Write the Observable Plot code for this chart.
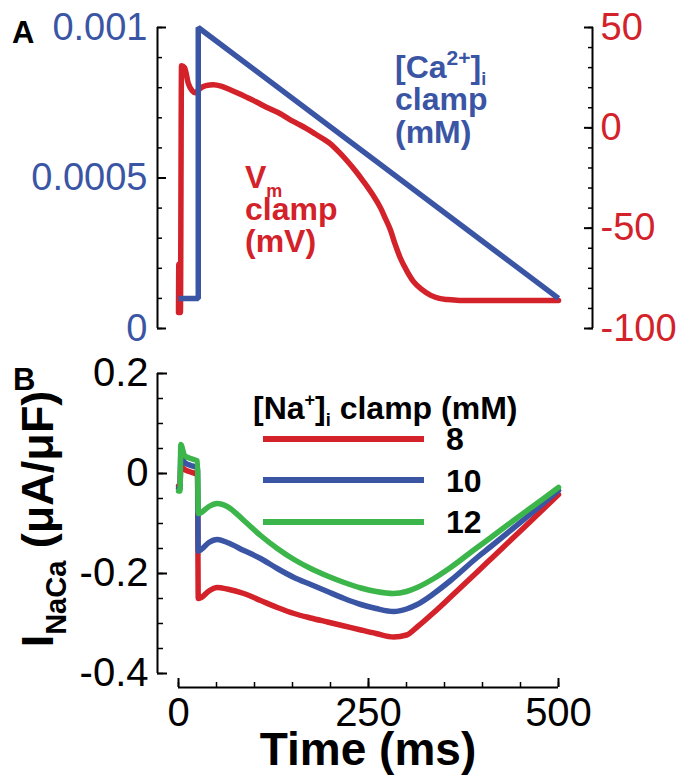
<!DOCTYPE html>
<html><head><meta charset="utf-8">
<script src="https://cdn.jsdelivr.net/npm/d3@7"></script>
<script src="https://cdn.jsdelivr.net/npm/@observablehq/plot@0.6"></script>
<style>
html,body{margin:0;padding:0;background:#fff;}
#wrap{position:relative;width:689px;height:776px;}
#wrap svg{position:absolute;left:0;overflow:visible;}
</style></head><body><div id="wrap"></div>
<script>
// ---------- Panel A data ----------
const caTime = [0, 26, 26, 500];
const caConc = [0.0001, 0.0001, 0.001, 0.0001];
const vmTime = [0, 0.4, 0.8, 2.5, 4, 8, 13, 18, 22, 28, 36, 46, 56, 68, 80, 91, 102, 112, 123, 134, 145, 157, 168, 178, 189, 200, 211, 222, 233, 243, 255, 266, 272, 279, 285, 292, 300, 309, 320, 332, 343, 354, 370, 400, 450, 500];
const vmValue = [-92, -68, -92, -92, 31, 30, 22, 18.5, 17.5, 19.5, 21, 21.5, 20.8, 19, 17, 15, 13, 11, 9, 7, 4.5, 2, -0.3, -2.6, -5.2, -8, -12, -16.5, -21.5, -26.5, -33, -40, -45, -51, -58, -65, -71, -76.5, -80.5, -83.5, -85, -85.6, -86, -86, -86, -86];
const caTicks = [0, 0.0005, 0.001];
const caTickLabels = ["0", "0.0005", "0.001"];
const caMinorTicks = [0, 0.0001, 0.0002, 0.0003, 0.0004, 0.0005, 0.0006, 0.0007, 0.0008, 0.0009, 0.001];
const vmTicks = [-100, -50, 0, 50];
const vmTickLabels = ["-100", "-50", "0", "50"];
const vmMinorTicks = [-100, -90, -80, -70, -60, -50, -40, -30, -20, -10, 0, 10, 20, 30, 40, 50];

// ---------- Panel B data ----------
const naTime = [0, 2, 3, 8, 16, 25, 26, 30, 40, 51, 64, 86, 108, 130, 152, 174, 196, 218, 240, 260, 283, 300, 314, 336, 358, 393, 411, 440, 476, 500];
const inaca8  = [-0.025, -0.025, 0.015, 0.008, 0.003, -0.002, -0.25, -0.248, -0.235, -0.228, -0.231, -0.24, -0.254, -0.268, -0.28, -0.289, -0.297, -0.305, -0.313, -0.32, -0.327, -0.323, -0.307, -0.278, -0.247, -0.197, -0.171, -0.129, -0.077, -0.042];
const inaca10 = [-0.03, -0.03, 0.035, 0.022, 0.016, 0.012, -0.155, -0.152, -0.138, -0.132, -0.138, -0.154, -0.17, -0.19, -0.208, -0.222, -0.236, -0.25, -0.262, -0.27, -0.276, -0.271, -0.262, -0.24, -0.214, -0.168, -0.146, -0.11, -0.065, -0.034];
const inaca12 = [-0.035, -0.035, 0.058, 0.036, 0.03, 0.025, -0.08, -0.078, -0.066, -0.06, -0.066, -0.094, -0.124, -0.15, -0.172, -0.19, -0.205, -0.218, -0.229, -0.236, -0.24, -0.236, -0.228, -0.21, -0.188, -0.148, -0.128, -0.095, -0.055, -0.028];
const naLevels = ["8", "10", "12"];
const iTicks = [-0.4, -0.2, 0, 0.2];
const iTickLabels = ["-0.4", "-0.2", "0", "0.2"];
const iMinorTicks = [-0.4, -0.35, -0.3, -0.25, -0.2, -0.15, -0.1, -0.05, 0, 0.05, 0.1, 0.15, 0.2];
const tTicks = [0, 250, 500];
const tTickLabels = ["0", "250", "500"];
const tMinorTicks = [0, 50, 100, 150, 200, 250, 300, 350, 400, 450, 500];

// ---------- styling ----------
const RED = "#d3222a", BLUE = "#3b55a5", GREEN = "#3cb54a";
const FONT = "'Liberation Sans', Arial, Helvetica, sans-serif";
const W = 689, ML = 178, MR = 131;
const wrap = document.getElementById("wrap");
const lab = (ticks, labels) => d => labels[ticks.indexOf(d)];

// ---------- Panel A: Vm (right axis), underneath ----------
const hA = 345, mtA = 27, mbA = 17;
const vmData = vmTime.map((t, i) => ({t, v: vmValue[i]}));
const vmPlot = Plot.plot({
  width: W, height: hA, marginLeft: ML, marginRight: MR, marginTop: mtA, marginBottom: mbA,
  style: {fontFamily: FONT, background: "transparent", overflow: "visible"},
  x: {domain: [0, 500], axis: null},
  y: {domain: [-100, 50]},
  marks: [
    Plot.ruleX([500], {x: d => d, y1: () => vmTicks[0], y2: () => vmTicks[vmTicks.length - 1], dx: 34, stroke: "black", strokeWidth: 2}),
    Plot.axisY({ticks: vmMinorTicks, anchor: "right", tickSize: -5, fill: "none", dx: 34, strokeWidth: 1.5, label: null}),
    Plot.axisY({ticks: vmTicks, anchor: "right", tickSize: -9, fill: "none", dx: 34, strokeWidth: 2, label: null}),
    Plot.axisY({ticks: vmTicks, anchor: "right", tickSize: 0, tickPadding: 8, stroke: "none", fill: RED, fontSize: 38, dx: 34, tickFormat: lab(vmTicks, vmTickLabels), label: null}),
    Plot.line(vmData, {x: "t", y: "v", stroke: RED, strokeWidth: 5.5, curve: "monotone-x"})
  ]
});
vmPlot.style.top = "0px";
wrap.appendChild(vmPlot);

// ---------- Panel A: Ca (left axis), on top ----------
const caData = caTime.map((t, i) => ({t, v: caConc[i]}));
const caPlot = Plot.plot({
  width: W, height: hA, marginLeft: ML, marginRight: MR, marginTop: mtA, marginBottom: mbA,
  style: {fontFamily: FONT, background: "transparent", overflow: "visible"},
  x: {domain: [0, 500], axis: null},
  y: {domain: [0, 0.001]},
  marks: [
    Plot.ruleX([0], {x: d => d, y1: () => caTicks[0], y2: () => caTicks[caTicks.length - 1], dx: -21, stroke: "black", strokeWidth: 2}),
    Plot.axisY({ticks: caMinorTicks, anchor: "left", tickSize: -5, fill: "none", dx: -21, strokeWidth: 1.5, label: null}),
    Plot.axisY({ticks: caTicks, anchor: "left", tickSize: -9, fill: "none", dx: -21, strokeWidth: 2, label: null}),
    Plot.axisY({ticks: caTicks, anchor: "left", tickSize: 0, tickPadding: 10, stroke: "none", fill: BLUE, fontSize: 38, dx: -21, tickFormat: lab(caTicks, caTickLabels), label: null}),
    Plot.line(caData, {x: "t", y: "v", stroke: BLUE, strokeWidth: 5.5, strokeLinejoin: "miter", strokeLinecap: "butt"})
  ]
});
caPlot.style.top = "0px";
wrap.appendChild(caPlot);

function addText(svg, x, y, parts, opts) {
  const t = d3.select(svg).append("text")
    .attr("x", x).attr("y", y)
    .attr("font-family", FONT).attr("font-weight", "bold")
    .attr("font-size", opts.size).attr("fill", opts.fill || "black")
    .attr("text-anchor", opts.anchor || "start");
  if (opts.transform) t.attr("transform", opts.transform);
  for (const p of parts) {
    const s = t.append("tspan").text(p.text);
    if (p.size) s.attr("font-size", p.size);
    if (p.dy) s.attr("dy", p.dy);
  }
  return t;
}
addText(caPlot, 12, 43, [{text: "A"}], {size: 31});
addText(caPlot, 395, 78, [{text: "[Ca"}, {text: "2+", size: 21, dy: -13}, {text: "]", dy: 13}, {text: "i", size: 18, dy: 7}], {size: 32, fill: BLUE});
addText(caPlot, 395, 110, [{text: "clamp"}], {size: 32, fill: BLUE});
addText(caPlot, 395, 143, [{text: "(mM)"}], {size: 32, fill: BLUE});
addText(caPlot, 245, 188, [{text: "V"}, {text: "m", size: 18, dy: 9}], {size: 32, fill: RED});
addText(caPlot, 245, 220, [{text: "clamp"}], {size: 32, fill: RED});
addText(caPlot, 245, 252, [{text: "(mV)"}], {size: 32, fill: RED});

// ---------- Panel B ----------
const topB = 345, hB = 431, mtB = 28, mbB = 103;
const series = [inaca8, inaca10, inaca12];
const colors = [RED, BLUE, GREEN];
const bData = series.flatMap((vals, k) => vals.map((v, i) => ({t: naTime[i], v, na: naLevels[k]})));
const bPlot = Plot.plot({
  width: W, height: hB, marginLeft: ML, marginRight: MR, marginTop: mtB, marginBottom: mbB,
  style: {fontFamily: FONT, background: "transparent", overflow: "visible"},
  x: {domain: [0, 500]},
  y: {domain: [-0.4, 0.2]},
  color: {domain: naLevels, range: colors},
  marks: [
    Plot.ruleX([0], {x: d => d, y1: () => iTicks[0], y2: () => iTicks[iTicks.length - 1], dx: -21, stroke: "black", strokeWidth: 2}),
    Plot.ruleY([-0.4], {y: d => d, x1: () => tTicks[0], x2: () => tTicks[tTicks.length - 1], dy: 14, stroke: "black", strokeWidth: 2}),
    Plot.axisY({ticks: iMinorTicks, anchor: "left", tickSize: -6, fill: "none", dx: -21, strokeWidth: 1.5, label: null}),
    Plot.axisY({ticks: iTicks, anchor: "left", tickSize: -10, fill: "none", dx: -21, strokeWidth: 2, label: null}),
    Plot.axisY({ticks: iTicks, anchor: "left", tickSize: 0, tickPadding: 9, stroke: "none", fill: "black", fontSize: 40, dx: -21, tickFormat: lab(iTicks, iTickLabels), label: null}),
    Plot.axisX({ticks: tMinorTicks, anchor: "bottom", tickSize: -5, fill: "none", dy: 14, strokeWidth: 1.5, label: null}),
    Plot.axisX({ticks: tTicks, anchor: "bottom", tickSize: -9, fill: "none", dy: 14, strokeWidth: 2, label: null}),
    Plot.axisX({ticks: tTicks, anchor: "bottom", tickSize: 0, tickPadding: 10, stroke: "none", fill: "black", fontSize: 40, dy: 14, tickFormat: lab(tTicks, tTickLabels), label: null}),
    Plot.line(bData, {x: "t", y: "v", z: "na", stroke: "na", strokeWidth: 5.5, curve: "monotone-x"})
  ]
});
bPlot.style.top = topB + "px";
wrap.appendChild(bPlot);

addText(bPlot, 13, 45, [{text: "B"}], {size: 31});
addText(bPlot, 0, 0, [{text: "I"}, {text: "NaCa", size: 29, dy: 13}, {text: " (\u03bcA/\u03bcF)", dy: -13}], {size: 45, anchor: "middle", transform: "translate(53,174) rotate(-90)"});
addText(bPlot, 368, 420, [{text: "Time (ms)"}], {size: 46, anchor: "middle"});
// legend
addText(bPlot, 253, 74, [{text: "[Na"}, {text: "+", size: 18, dy: -13}, {text: "]", dy: 13}, {text: "i", size: 18, dy: 7}, {text: " clamp (mM)", dy: -7}], {size: 32});
const legY = [94, 135, 177], legT = [105, 147, 188];
naLevels.forEach((n, k) => {
  d3.select(bPlot).append("line").attr("x1", 263).attr("x2", 424).attr("y1", legY[k]).attr("y2", legY[k])
    .attr("stroke", colors[k]).attr("stroke-width", 6);
  addText(bPlot, 446, legT[k], [{text: n}], {size: 32});
});
</script></body></html>
